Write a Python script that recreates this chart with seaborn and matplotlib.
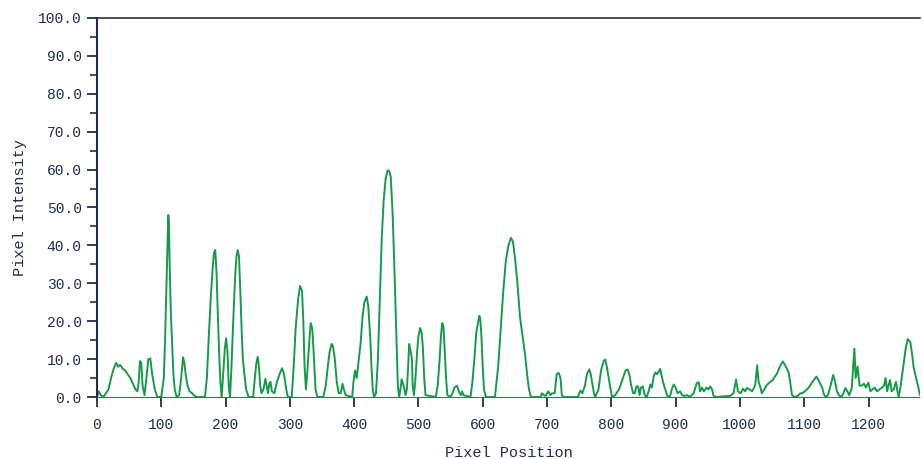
import matplotlib
matplotlib.use("Agg")
import matplotlib.pyplot as plt
import pandas as pd
import seaborn as sns
from matplotlib.ticker import MultipleLocator, FormatStrFormatter

# profile vertices (pixel position, intensity)
position = [
    0, 3, 6, 10, 14, 18, 22, 26, 30, 33, 36, 40, 44, 48, 52, 56, 60, 63, 65, 67,
    69, 71, 74, 77, 80, 83, 86, 90, 94, 100, 104, 106, 108, 110, 111, 112, 113, 115, 117, 119,
    121, 124, 128, 131, 134, 136, 138, 141, 144, 148, 152, 156, 168, 171, 174, 177, 180, 182, 184, 186,
    188, 190, 192, 194, 196, 199, 201, 203, 205, 207, 209, 212, 215, 217, 219, 221, 223, 225, 227, 230,
    232, 236, 243, 245, 248, 250, 252, 254, 256, 259, 262, 264, 266, 268, 270, 272, 276, 280, 284, 288,
    291, 294, 297, 303, 306, 309, 313, 316, 319, 321, 323, 325, 327, 330, 332.5, 335, 337, 340, 343, 352,
    356, 359, 362, 365, 367, 370, 373, 376, 379, 382, 384, 387, 397, 399, 401.5, 404, 406, 410, 413, 416,
    419.5, 422, 425, 427, 429, 431, 434, 437, 440, 443, 446, 449, 452, 455, 457, 460, 463, 466, 468, 470,
    472, 474, 477, 480, 482, 484, 485.6, 488, 490, 491, 493, 495, 498, 500, 502.7, 505, 507, 509, 511, 527,
    530, 533, 535, 537, 539, 541, 543, 545, 550, 553, 556, 559.8, 562, 564, 566, 568, 570, 581, 584, 587,
    590, 594.6, 596, 598, 600, 602, 605, 619, 624, 628, 632, 636, 640, 644, 647, 650, 654, 658, 662, 666,
    669, 672, 675, 690, 692, 695, 698, 702, 705, 708, 712, 715, 718, 721, 723, 726, 748, 752, 755, 759,
    762, 765.7, 768, 771, 773, 775, 780, 784, 788, 790.7, 793, 796, 799, 801, 806, 812, 818, 822, 825.4, 828,
    831, 834, 836.5, 839, 841.6, 844, 846, 849, 852, 855, 858, 860.7, 863, 866, 868.5, 871, 874, 876, 879, 882,
    884, 887, 891, 894, 897, 900, 903, 907, 910, 914, 918, 922, 928, 933, 936, 938, 941, 944, 948, 951,
    954, 956.7, 959, 963, 975, 985, 990, 994, 997, 1001, 1005, 1008, 1011, 1015, 1019, 1022, 1024, 1026.8, 1029, 1032,
    1034, 1038, 1041, 1044, 1047.5, 1051, 1055, 1058, 1062, 1066.7, 1070, 1073, 1076, 1079, 1081, 1085, 1090, 1094, 1097, 1101,
    1104, 1107, 1111, 1115, 1119, 1122, 1125, 1128, 1130, 1133, 1137, 1141, 1145, 1148, 1151, 1154, 1158, 1161, 1164, 1167,
    1170, 1174, 1178, 1180, 1183, 1186, 1189, 1193, 1196, 1199.6, 1203, 1206, 1209.8, 1213, 1217, 1221, 1224, 1226.5, 1229, 1231,
    1233.5, 1236, 1239, 1242.8, 1245, 1247, 1250, 1254, 1258, 1261, 1265, 1268, 1270, 1274, 1277, 1280,
]
intensity = [
    0, 1.5, 0.5, 0, 1, 2, 5, 7.5, 9, 8, 8.5, 7.5, 7, 6, 5, 3.5, 2, 1.5, 4, 9.5,
    9, 3, 0.5, 5, 10, 10.2, 6, 2, 0, 0, 5, 15, 28, 40, 48, 46, 36, 22, 14, 6,
    2, 0, 0.5, 5, 10.5, 9, 6, 3, 1.5, 1, 0.3, 0, 0, 5, 16, 26, 34, 38, 38.8, 33,
    22, 12, 4, 0, 5, 13, 15.5, 12, 3, 0, 7, 20, 32, 37, 38.8, 37, 28, 18, 10, 5,
    2, 0, 0, 4, 9, 10.6, 8, 3, 1, 2, 4.8, 3, 1, 3.5, 4, 1.5, 1, 4, 6, 7.6,
    6, 2.5, 0, 0, 8, 18, 26, 29.3, 28, 20, 8, 2, 6, 14, 19.5, 18, 12, 2, 0, 0,
    3, 8, 12, 14, 13.5, 10, 4, 1, 1, 3.5, 2, 0.5, 0, 4, 7, 5, 8, 14, 21, 25,
    26.5, 24, 16, 8, 2, 0, 1, 10, 26, 42, 52, 57.5, 59.8, 59.5, 58, 48, 32, 14, 3, 0,
    2, 4.7, 3, 0.5, 2, 8, 14, 12, 10, 3, 0.5, 4, 12, 16, 18.2, 17, 13, 5, 0.5, 0,
    3, 10, 16, 19.5, 18.5, 12, 5, 0.5, 0, 1, 2.5, 3, 2, 1, 0.5, 1.5, 0.5, 0, 4, 10,
    17, 21.4, 21, 16, 8, 2, 0, 0, 8, 18, 28, 36, 40, 42, 41, 37, 30, 21, 16, 11,
    6, 2, 0, 0, 1, 0.5, 0.3, 1.5, 0.5, 1, 1, 6, 6.4, 5, 0.5, 0, 0, 1.7, 1, 3,
    6, 7.3, 6, 3, 1, 0, 2, 7, 9.5, 9.9, 8, 5, 2, 0, 0.5, 2, 5, 7, 7.3, 6,
    3, 1, 1, 2.8, 2.8, 0.5, 2.5, 2.8, 0.5, 0, 1.5, 3.3, 2.5, 5.5, 6.5, 6, 6.8, 7.4, 5, 3,
    2, 0.3, 0, 2, 3.3, 2.5, 1, 1.5, 0.5, 0.3, 0.5, 0, 1, 3.7, 3.9, 1.5, 2.5, 1.5, 2.5, 2,
    2.8, 2, 0.3, 0, 0.2, 0.3, 1, 4.6, 1.5, 1, 2.2, 1.5, 2.4, 2, 1.5, 2.5, 3.5, 8.4, 4, 2.5,
    1, 2, 3, 3.5, 4, 4.5, 5.5, 6.3, 8, 9.4, 8.5, 7.5, 6.3, 3, 0.5, 0, 0.3, 1, 1, 1.5,
    2, 2.5, 3.5, 4.5, 5.4, 4.5, 3.5, 2.5, 1, 0, 0.5, 3, 5.8, 4, 1.5, 0.5, 0, 1, 2.4, 1.5,
    0.5, 2.4, 12.8, 5, 8.1, 3, 3, 3.5, 2.5, 3.8, 1.5, 2, 2.5, 1.5, 2, 2.5, 3, 5, 1.5, 3,
    4.5, 1.5, 2, 4, 1.5, 0, 3, 8, 13, 15.3, 14.5, 11, 8, 5, 3, 0.5,
]
x_ticks = list(range(0, 1300, 100))
y_ticks = [0, 10, 20, 30, 40, 50, 60, 70, 80, 90, 100]

profile = pd.DataFrame({"position": position, "intensity": intensity})

sns.set_style("white")
plt.rcParams["font.family"] = ["Liberation Mono", "DejaVu Sans Mono"]

text_color = "#1f2b4a"
fig = plt.figure(figsize=(9.23, 4.59), dpi=100)
ax = fig.add_axes([0.105, 0.135, 0.8917, 0.826])

sns.lineplot(data=profile, x="position", y="intensity", color="#17994a",
             linewidth=1.4, estimator=None, ax=ax)

ax.set_xlim(0, 1280)
ax.set_ylim(0, 100)
ax.set_xticks(x_ticks)
ax.set_yticks(y_ticks)
ax.yaxis.set_minor_locator(MultipleLocator(5))
ax.yaxis.set_major_formatter(FormatStrFormatter("%.1f"))

ax.tick_params(axis="both", which="major", direction="out", length=7, width=1.3,
               colors=text_color, labelsize=10.5, bottom=True, left=True)
ax.tick_params(axis="x", which="major", pad=8)
ax.tick_params(axis="y", which="major", pad=4)
ax.tick_params(axis="y", which="minor", direction="out", length=5, width=1.2,
               colors=text_color, left=True)

ax.spines["right"].set_visible(False)
ax.spines["left"].set_color(text_color)
ax.spines["left"].set_linewidth(1.5)
ax.spines["top"].set_color("#2a2f4a")
ax.spines["top"].set_linewidth(1.2)
ax.spines["bottom"].set_color("#a04050")
ax.spines["bottom"].set_linewidth(0.8)
ax.spines["bottom"].set_linestyle((0, (2, 1)))

ax.set_xlabel("Pixel Position", fontsize=11, color=text_color, labelpad=10)
ax.set_ylabel("Pixel Intensity", fontsize=11, color=text_color, labelpad=8)

fig.savefig("out.png", dpi=100)
